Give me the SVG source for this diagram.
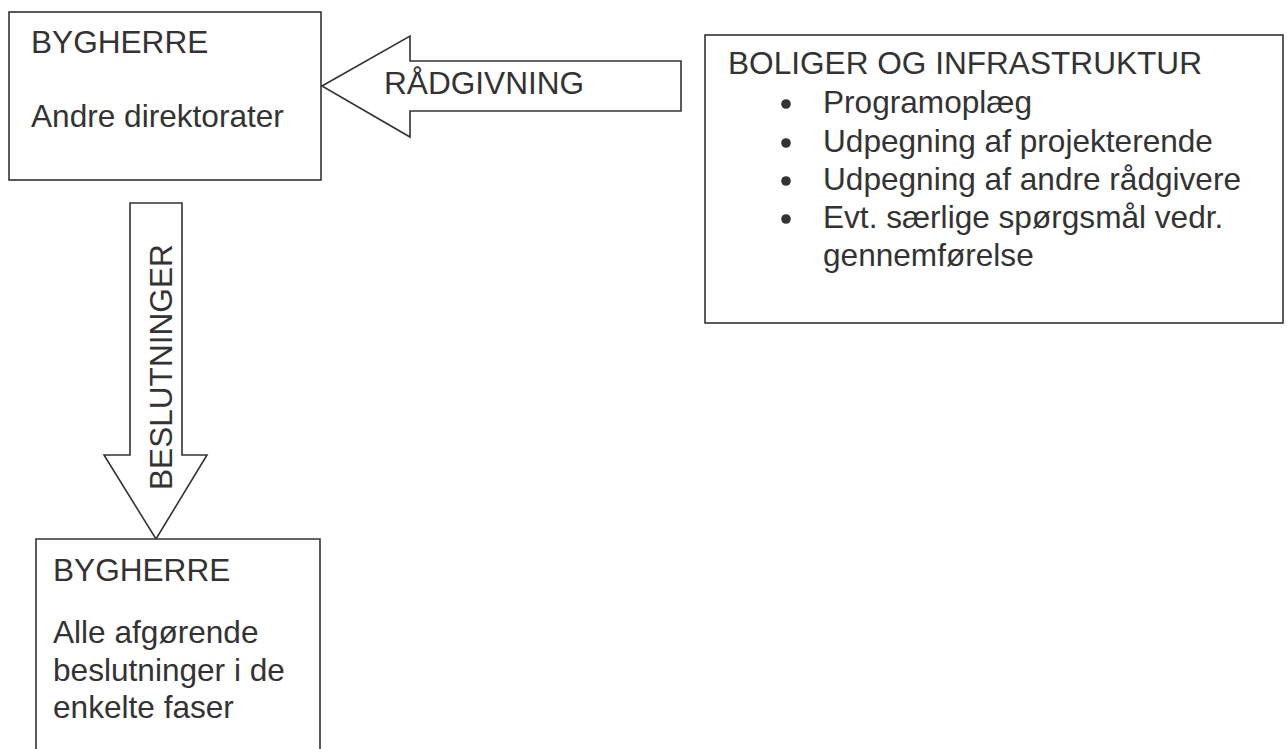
<svg xmlns="http://www.w3.org/2000/svg" width="1288" height="749" viewBox="0 0 1288 749">
  <style>
    .box { fill: #ffffff; stroke: #333333; stroke-width: 1.6; }
    .arrow { fill: #ffffff; stroke: #333333; stroke-width: 1.6; stroke-linejoin: miter; }
    .t { font-family: "Liberation Sans", Arial, sans-serif; font-size: 31.6px; fill: #333333; }
    .dot { fill: #333333; }
  </style>
  <rect width="1288" height="749" fill="#ffffff"/>

  <!-- connectors: block arrows -->
  <g id="connectors">
    <g id="arrow-raadgivning">
      <polygon class="arrow" points="322,86 410,36 410,61 681,61 681,111 410,111 410,137"/>
      <text class="t" x="384" y="94">RÅDGIVNING</text>
    </g>
    <g id="arrow-beslutninger">
      <polygon class="arrow" points="130,203 182,203 182,455 207,455 156,539 104,455 130,455"/>
      <text class="t" transform="translate(172,490) rotate(-90)">BESLUTNINGER</text>
    </g>
  </g>

  <g id="node-bygherre-top">
    <rect class="box" x="9" y="12" width="312" height="168"/>
    <text class="t" x="31" y="53">BYGHERRE</text>
    <text class="t" x="31" y="127">Andre direktorater</text>
  </g>

  <g id="node-boliger">
    <rect class="box" x="705" y="35" width="578" height="288"/>
    <text class="t" x="728" y="74">BOLIGER OG INFRASTRUKTUR</text>
    <circle class="dot" cx="786" cy="104" r="4.8"/>
    <circle class="dot" cx="786" cy="143" r="4.8"/>
    <circle class="dot" cx="786" cy="181" r="4.8"/>
    <circle class="dot" cx="786" cy="219" r="4.8"/>
    <text class="t" x="823" y="113">Programoplæg</text>
    <text class="t" x="823" y="152">Udpegning af projekterende</text>
    <text class="t" x="823" y="190">Udpegning af andre rådgivere</text>
    <text class="t" x="823" y="228">Evt. særlige spørgsmål vedr.</text>
    <text class="t" x="823" y="266">gennemførelse</text>
  </g>

  <g id="node-bygherre-bottom">
    <path class="box" d="M36,760 L36,539 L320,539 L320,760"/>
    <text class="t" x="53" y="581">BYGHERRE</text>
    <text class="t" x="53" y="643">Alle afgørende</text>
    <text class="t" x="53" y="681">beslutninger i de</text>
    <text class="t" x="53" y="718">enkelte faser</text>
  </g>
</svg>
